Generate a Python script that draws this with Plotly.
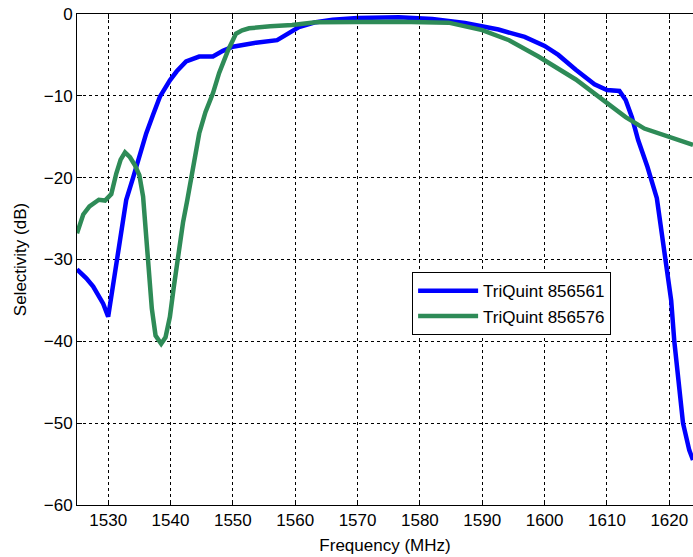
import plotly.graph_objects as go

# TriQuint 856561 (blue)
freq_a = [1525.0, 1526.5, 1527.6, 1529.2, 1530.0, 1530.8, 1531.9, 1532.9, 1534.0, 1535.0,
          1536.1, 1537.2, 1538.3, 1539.9, 1541.0, 1542.5, 1544.6, 1546.8, 1548.4, 1550.0,
          1553.7, 1557.1, 1559.0, 1560.6, 1563.3, 1566.0, 1570.0, 1576.6, 1582.0, 1587.2,
          1592.6, 1596.8, 1600.0, 1602.2, 1605.0, 1608.0, 1610.0, 1612.0, 1613.0, 1614.0,
          1615.0, 1616.5, 1618.0, 1619.0, 1620.3, 1620.8, 1621.5, 1622.2, 1623.2, 1623.8]
sel_a = [-31.2, -32.3, -33.3, -35.4, -37.0, -33.0, -26.8, -22.7, -20.0, -17.2,
         -14.6, -12.3, -10.1, -8.1, -7.0, -5.8, -5.2, -5.2, -4.5, -4.0,
         -3.5, -3.2, -2.3, -1.6, -1.0, -0.7, -0.5, -0.4, -0.6, -1.1,
         -1.9, -2.8, -3.9, -5.0, -6.8, -8.6, -9.3, -9.4, -10.5, -12.6,
         -15.4, -18.7, -22.5, -28.0, -35.0, -40.0, -45.0, -50.0, -53.3, -54.5]

# TriQuint 856576 (green)
freq_b = [1525.0, 1526.0, 1527.0, 1528.5, 1529.5, 1530.5, 1531.3, 1532.0, 1532.7, 1533.5,
          1534.3, 1535.0, 1535.6, 1536.1, 1536.6, 1537.0, 1537.6, 1538.5, 1539.2, 1539.9,
          1540.5, 1541.1, 1542.0, 1542.7, 1543.3, 1544.6, 1545.6, 1546.8, 1547.8, 1548.6,
          1549.3, 1550.0, 1550.5, 1551.5, 1552.6, 1556.0, 1559.5, 1563.3, 1570.0, 1576.6,
          1584.6, 1590.0, 1594.3, 1599.0, 1605.0, 1610.0, 1613.0, 1616.0, 1620.0, 1623.8]
sel_b = [-26.8, -24.5, -23.5, -22.7, -22.8, -22.0, -19.5, -17.8, -16.9, -17.5,
         -18.5, -19.7, -22.3, -27.0, -32.0, -36.0, -39.3, -40.3, -39.5, -37.0,
         -33.5, -30.0, -25.5, -22.7, -19.9, -14.6, -12.0, -9.7, -7.2, -5.6,
         -4.3, -3.2, -2.4, -2.0, -1.75, -1.5, -1.35, -1.0, -0.95, -0.94,
         -1.06, -1.96, -3.2, -5.2, -8.0, -10.8, -12.6, -14.0, -15.0, -16.0]

x_ticks = [1530, 1540, 1550, 1560, 1570, 1580, 1590, 1600, 1610, 1620]
y_ticks = [0, -10, -20, -30, -40, -50, -60]

FONT = "Liberation Sans, Arial, sans-serif"

fig = go.Figure()
fig.add_trace(go.Scatter(x=freq_a, y=sel_a, mode="lines", name="TriQuint 856561",
                         line=dict(color="#0000FF", width=4.5)))
fig.add_trace(go.Scatter(x=freq_b, y=sel_b, mode="lines", name="TriQuint 856576",
                         line=dict(color="#2E8B57", width=4.5)))

axis_common = dict(
    showgrid=True, gridcolor="black", griddash="3px,3px", gridwidth=1,
    showline=True, linecolor="black", linewidth=1,
    ticks="inside", ticklen=5, tickcolor="black",
    tickfont=dict(family=FONT, size=17, color="black"),
    ticklabeloverflow="allow",
    zeroline=False, automargin=False,
)

fig.update_layout(
    width=693, height=557,
    margin=dict(l=77, r=0, t=14, b=52, autoexpand=False),
    paper_bgcolor="white", plot_bgcolor="white",
    font=dict(family=FONT, color="black"),
    showlegend=True,
    legend=dict(x=0.544, y=0.474, xanchor="left", yanchor="top",
                bgcolor="white", bordercolor="black", borderwidth=1,
                font=dict(family=FONT, size=17, color="black"),
                itemwidth=60, tracegroupgap=0),
    xaxis=dict(range=[1525, 1623.8], tickvals=x_ticks, mirror="ticks",
               title=dict(text="Frequency (MHz)", font=dict(family=FONT, size=17), standoff=9),
               **axis_common),
    yaxis=dict(range=[-60, 0], tickvals=y_ticks,
               title=dict(text="Selectivity (dB)", font=dict(family=FONT, size=17), standoff=12),
               **axis_common),
)

fig.write_html(
    "out.html",
    config={"displayModeBar": False},
    post_script="document.body.style.margin='0';document.body.style.overflow='hidden';",
)
